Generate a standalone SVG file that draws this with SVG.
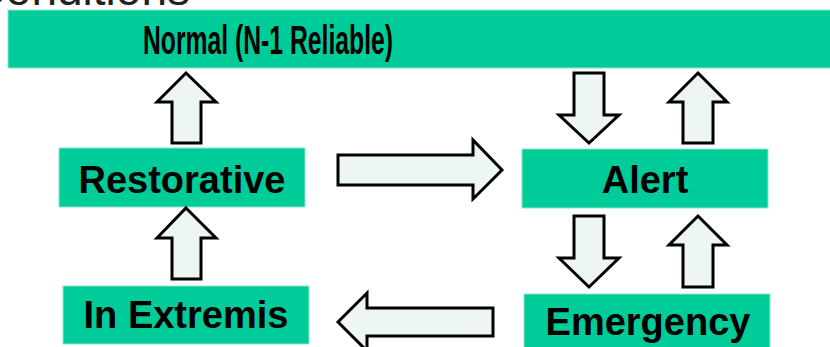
<svg xmlns="http://www.w3.org/2000/svg" width="830" height="347" viewBox="0 0 830 347">
<defs>
<style>
.box{fill:#00cc99;stroke:#8fe6cc;stroke-width:1}
.lbl{font-family:"Liberation Sans",Arial,sans-serif;font-weight:bold;font-size:38px;fill:#000;text-anchor:middle}
.arr{fill:#eef6f1;stroke:#000;stroke-width:3;stroke-linejoin:miter}
</style>
</defs>
<rect width="830" height="347" fill="#fff"/>
<text x="190" y="5" font-family="Liberation Sans,Arial,sans-serif" font-size="46" fill="#222" text-anchor="end">Conditions</text>
<g id="normal">
<rect class="box" x="8" y="10" width="830" height="58"/>
<text class="lbl" x="268" y="54" style="font-size:41px" textLength="250" lengthAdjust="spacingAndGlyphs">Normal (N-1 Reliable)</text>
</g>
<g id="restorative">
<rect class="box" x="59" y="148" width="246" height="59"/>
<text class="lbl" x="182" y="193">Restorative</text>
</g>
<g id="alert">
<rect class="box" x="522" y="149" width="246" height="59"/>
<text class="lbl" x="645" y="193">Alert</text>
</g>
<g id="inextremis">
<rect class="box" x="63" y="286" width="246" height="58"/>
<text class="lbl" x="186" y="328">In Extremis</text>
</g>
<g id="emergency">
<rect class="box" x="524" y="294" width="246" height="60"/>
<text class="lbl" x="648" y="335">Emergency</text>
</g>
<g id="connectors">
<polygon class="arr" points="186,73 216,102 201,102 201,143 172,143 172,102 157,102"/>
<polygon class="arr" points="186,208 216,238 201,238 201,279 172,279 172,238 157,238"/>
<polygon class="arr" points="338,155 473,155 473,140 502,170 473,199 473,185 338,185"/>
<polygon class="arr" points="574,73 604,73 604,115 619,115 589,143 559,115 574,115"/>
<polygon class="arr" points="698,73 727,102 713,102 713,143 683,143 683,102 669,102"/>
<polygon class="arr" points="574,216 604,216 604,258 619,258 589,287 559,258 574,258"/>
<polygon class="arr" points="698,216 727,245 713,245 713,287 683,287 683,245 669,245"/>
<polygon class="arr" points="493,308 367,308 367,293 338,322 367,351 367,336 493,336"/>
</g>
</svg>
